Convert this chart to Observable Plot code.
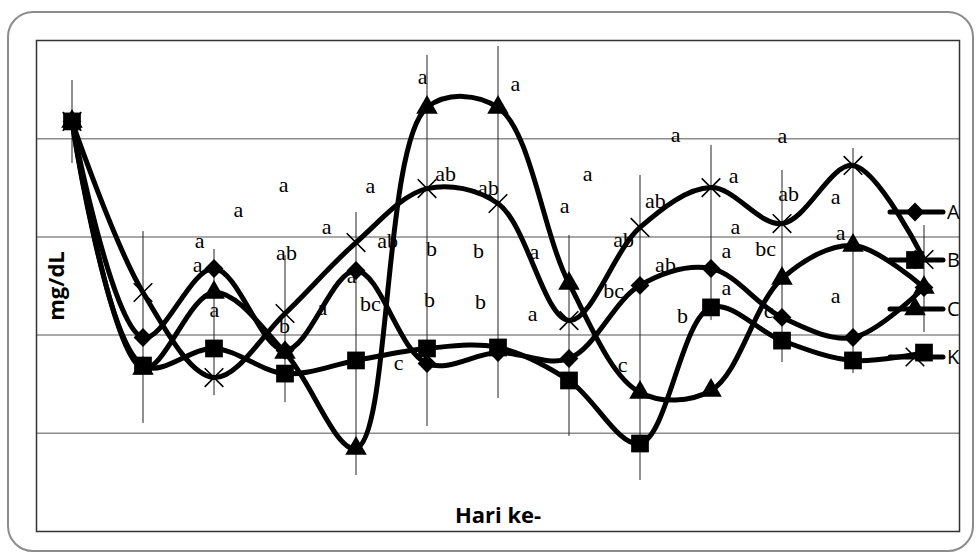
<!DOCTYPE html>
<html>
<head>
<meta charset="utf-8">
<script src="https://cdn.jsdelivr.net/npm/d3@7"></script>
<script src="https://cdn.jsdelivr.net/npm/@observablehq/plot@0.6"></script>
<style>
  html, body { margin: 0; padding: 0; background: #fff; }
  #wrap { position: relative; width: 977px; height: 555px; overflow: hidden; background: #fff; }
  #border { position: absolute; left: 7px; top: 11px; width: 967px; height: 541px; box-sizing: border-box;
            border: 2px solid #8c8c8c; border-radius: 26px; }
  #chart { position: absolute; left: 0; top: 0; }
  #legend { position: absolute; left: 0; top: 0; overflow: visible; }
</style>
</head>
<body>
<div id="wrap">
  <div id="border"></div>
  <div id="chart"></div>
  <svg id="legend" width="977" height="555"></svg>
</div>
<script>
// ---- data ----
const days = [1, 2, 3, 4, 5, 6, 7, 8, 9, 10, 11, 12, 13];
const seriesNames = ["A", "B", "C", "K"];
const seriesA = [208.8, 98.8, 133.9, 92.2, 132.9, 85.5, 91.1, 88.1, 125.3, 133.9, 109.0, 98.8, 124.2];
const seriesB = [208.8, 84.5, 93.2, 80.4, 87.1, 93.2, 93.7, 76.9, 44.8, 114.1, 97.2, 87.1, 91.1];
const seriesC = [208.8, 83.0, 121.7, 91.1, 42.3, 215.9, 215.9, 126.3, 70.8, 71.8, 128.8, 145.6, 124.2];
const seriesK = [208.8, 121.7, 78.4, 111.0, 147.1, 174.6, 167.0, 107.4, 154.8, 175.1, 156.8, 186.4, 138.5];
const errLow  = [187.4, 55.0, 69.2, 65.6, 28.5, 53.5, 67.7, 48.4, 26.0, 107.4, 86.0, 80.4, 101.3];
const errHigh = [229.6, 152.7, 143.6, 140.5, 162.4, 242.4, 246.9, 150.7, 181.3, 196.6, 183.8, 195.0, 155.8];
const gridValues = [50, 100, 150, 200];

// significance letters: text, day position, value (baseline)
const letterText  = ["a","a","a","a","ab","a","b","a","a","a","ab","a","bc","c","a","a","ab","ab","a","a","b","b","a","b","b","a","ab","ab","bc","c","ab","a","a","a","ab","a","a","bc","a","b","c","a","a","a"];
const letterDay   = [3.98,3.345,2.796,2.768,4.021,3.007,3.993,4.528,4.585,5.204,5.444,4.937,5.204,5.599,5.937,7.246,6.261,6.866,8.261,7.937,6.063,6.725,7.514,6.035,6.754,7.486,8.768,9.218,8.627,8.754,9.359,9.5,11.007,10.317,11.092,10.345,10.218,10.768,10.218,9.599,10.81,11.754,11.824,11.754];
const letterValue = [173.1,159.9,144.1,131.9,138.0,109.0,101.3,110.0,151.7,172.6,144.1,126.3,112.5,82.0,228.1,224.5,178.7,171.1,178.7,162.4,140.5,139.5,139.0,114.1,113.5,107.4,145.1,164.5,119.1,81.0,131.9,198.1,197.6,177.2,168.5,151.7,139.5,140.5,120.2,106.4,108.5,167.0,148.2,116.1];

const xTitle = "Hari ke-";
const yTitle = "mg/dL";

// ---- build tables ----
const seriesValues = [seriesA, seriesB, seriesC, seriesK];
const rows = [];
seriesNames.forEach((s, i) => seriesValues[i].forEach((v, j) => rows.push({series: s, day: days[j], value: v})));
const errors = days.map((d, j) => ({day: d, lo: errLow[j], hi: errHigh[j]}));
const letters = letterText.map((t, i) => ({t, day: letterDay[i], value: letterValue[i]}));

const symbolOf = {A: d3.symbolDiamond2, B: d3.symbolSquare, C: d3.symbolTriangle, K: d3.symbolTimes};
const rOf = {A: 8.5, B: 10, C: 8, K: 8.5};
const drawOrder = ["C", "K", "A", "B"];

const dotMarks = drawOrder.map(s => {
  const data = rows.filter(d => d.series === s);
  if (s === "K") {
    return Plot.dot(data, {x: "day", y: "value", symbol: symbolOf[s], r: rOf[s], stroke: "#000", strokeWidth: 1.6, fill: "none"});
  }
  return Plot.dot(data, {x: "day", y: "value", symbol: symbolOf[s], r: rOf[s], fill: "#000", stroke: "none"});
});

const chart = Plot.plot({
  width: 977,
  height: 555,
  marginLeft: 36,
  marginRight: 18,
  marginTop: 40,
  marginBottom: 24,
  x: {domain: [0.5, 13.5], axis: null},
  y: {domain: [0, 250], axis: null},
  style: {background: "transparent", overflow: "visible"},
  marks: [
    Plot.gridY(gridValues, {stroke: "#8c8c8c", strokeOpacity: 1, strokeWidth: 1.5}),
    Plot.text(letters, {x: "day", y: "value", text: "t", lineAnchor: "bottom", textAnchor: "middle",
      fontFamily: "Liberation Serif", fontSize: 22, fill: "#000"}),
    Plot.ruleX(errors, {x: "day", y1: "lo", y2: "hi", stroke: "#222", strokeWidth: 1}),
    Plot.line(rows, {x: "day", y: "value", z: "series", curve: "catmull-rom", stroke: "#000", strokeWidth: 5,
      strokeLinejoin: "round", strokeLinecap: "round"}),
    ...dotMarks,
    Plot.frame({stroke: "#333", strokeWidth: 1.5}),
    Plot.text([xTitle], {frameAnchor: "bottom", dy: -9, lineAnchor: "bottom", textAnchor: "middle",
      fontWeight: "bold", fontSize: 22, fontFamily: "Open Sans", fill: "#000"}),
    Plot.text([yTitle], {frameAnchor: "left", rotate: -90, dx: 20, textAnchor: "middle",
      fontWeight: "bold", fontSize: 22, fontFamily: "Open Sans", fill: "#000"})
  ]
});
document.getElementById("chart").appendChild(chart);

// ---- legend (inside plot area, right side) ----
const legend = d3.select("#legend");
const legX0 = 890, legX1 = 943, legMark = 915, legLabel = 947;
const legRows = [212, 260, 309, 357];
seriesNames.forEach((s, i) => {
  const g = legend.append("g").attr("transform", `translate(0,${legRows[i]})`);
  g.append("line").attr("x1", legX0).attr("x2", legX1).attr("y1", 0).attr("y2", 0)
    .attr("stroke", "#000").attr("stroke-width", 5).attr("stroke-linecap", "round");
  const sym = d3.symbol(symbolOf[s], rOf[s] * rOf[s] * Math.PI);
  const p = g.append("path").attr("d", sym()).attr("transform", `translate(${legMark},0)`);
  if (s === "K") p.attr("fill", "none").attr("stroke", "#000").attr("stroke-width", 1.6);
  else p.attr("fill", "#000");
  g.append("text").attr("x", legLabel).attr("y", 0).attr("dy", "0.35em")
    .attr("font-family", "Open Sans").attr("font-size", 20).attr("fill", "#000").text(s);
});
</script>
</body>
</html>
